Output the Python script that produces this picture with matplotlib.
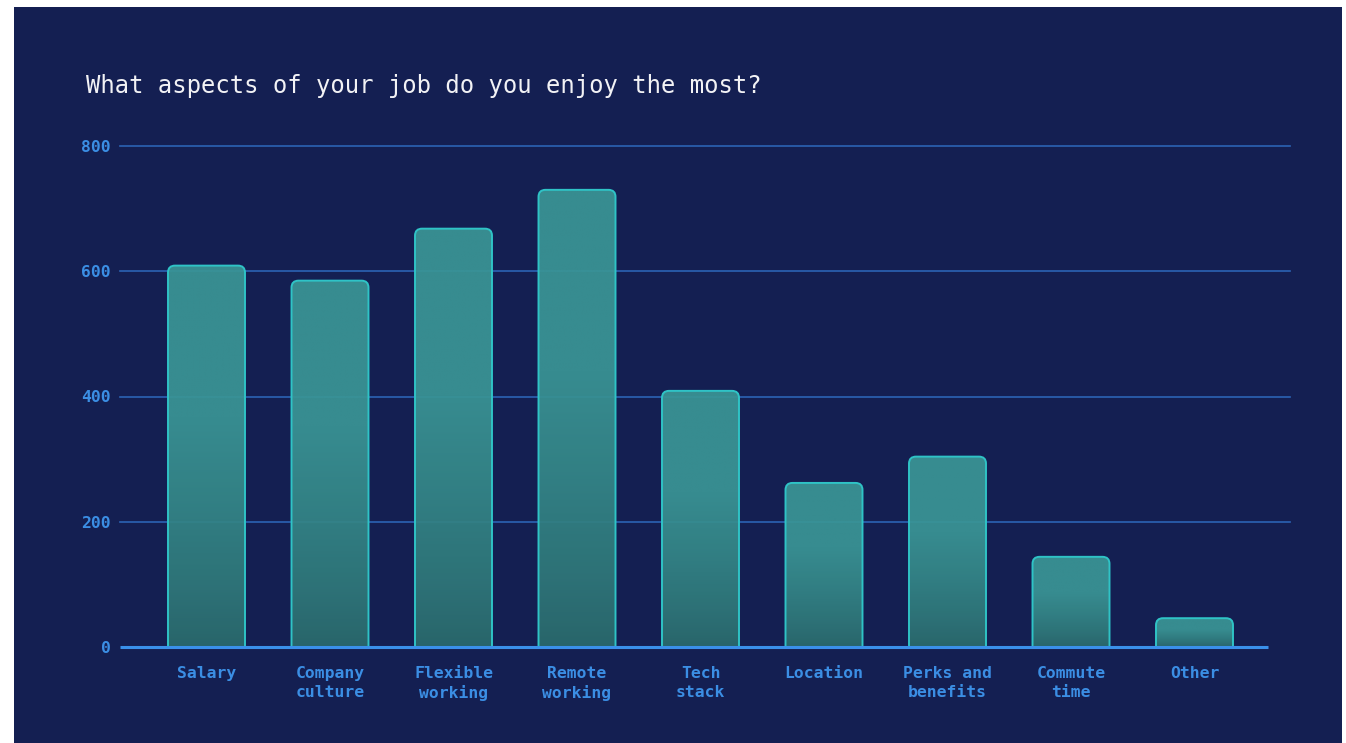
import numpy as np
import matplotlib
matplotlib.use("Agg")
import matplotlib.pyplot as plt
from matplotlib.patches import FancyBboxPatch, Rectangle
from matplotlib.colors import to_rgb

# survey answers
categories = ["Salary", "Company\nculture", "Flexible\nworking", "Remote\nworking",
              "Tech\nstack", "Location", "Perks and\nbenefits", "Commute\ntime", "Other"]
counts = [609, 585, 668, 730, 409, 262, 304, 144, 46]
yticks = [0, 200, 400, 600, 800]

BG = "#141f52"
LABEL = "#3b8ee4"
GRID = "#2b63b4"
EDGE = "#2fc3c6"
TOP = np.array(to_rgb("#3a9595"))
BOTTOM = np.array(to_rgb("#2a6a6c"))

W, H = 1346, 743
fig = plt.figure(figsize=(W / 100, H / 100), dpi=100, facecolor="white")
fig.patches.append(Rectangle((14 / W, 0), (1342 - 14) / W, 1 - 7 / H,
                             transform=fig.transFigure, facecolor=BG,
                             edgecolor="none", zorder=-5))

ax_left, ax_right = 120, 1290
ax_bottom, ax_top = 647, 146
ax = fig.add_axes([ax_left / W, 1 - ax_bottom / H,
                   (ax_right - ax_left) / W, (ax_bottom - ax_top) / H])
ax.set_facecolor("none")

step_px = 123.5
x_lo = -(206.5 - ax_left) / step_px
x_hi = x_lo + (ax_right - ax_left) / step_px
ax.set_xlim(x_lo, x_hi)
ax.set_ylim(0, 800)

# data units per pixel, used for the rounded corners
xu = 1 / step_px
yu = 800 / (ax_bottom - ax_top)
radius_px = 7
bar_w = 77 / step_px

for y in yticks[1:]:
    ax.plot([x_lo, x_hi], [y, y], color=GRID, lw=1.2, zorder=1, clip_on=False)

for i, v in enumerate(counts):
    x0 = i - bar_w / 2
    patch = FancyBboxPatch((x0, -radius_px * yu), bar_w, v + radius_px * yu,
                           boxstyle=f"round,pad=0,rounding_size={radius_px * xu}",
                           mutation_aspect=yu / xu,
                           facecolor="none", edgecolor=EDGE, lw=1.4, zorder=3)
    ax.add_patch(patch)
    t = np.linspace(0, 1, 200)
    k = np.clip(t / 0.6, 0, 1) ** 0.8
    cols = BOTTOM[None, :] * (1 - k[:, None]) + TOP[None, :] * k[:, None]
    img = ax.imshow(cols[:, None, :], extent=[x0, x0 + bar_w, 0, v],
                    origin="lower", aspect="auto", alpha=0.93, zorder=2,
                    interpolation="bilinear")
    img.set_clip_path(patch)

ax.set_xlim(x_lo, x_hi)
ax.set_ylim(0, 800)

# baseline
base_end = (1268 - 206.5) / step_px
ax.plot([x_lo, base_end], [0, 0], color="#3a90ea", lw=2.2, zorder=4,
        clip_on=False, solid_capstyle="butt")

for s in ax.spines.values():
    s.set_visible(False)

ax.set_yticks(yticks)
ax.set_yticklabels([str(t) for t in yticks])
ax.set_xticks(range(len(categories)))
ax.set_xticklabels(categories, linespacing=1.3)
ax.tick_params(length=0, colors=LABEL)
ax.tick_params(axis="y", pad=6.5)
ax.tick_params(axis="x", pad=14)
for lab in ax.get_xticklabels() + ax.get_yticklabels():
    lab.set_fontfamily("DejaVu Sans Mono")
    lab.set_fontweight("bold")
    lab.set_fontsize(11.8)
    lab.set_color(LABEL)
for lab in ax.get_xticklabels():
    lab.set_verticalalignment("top")
    lab.set_horizontalalignment("center")

fig.text(86 / W, 1 - 86 / H, "What aspects of your job do you enjoy the most?",
         fontfamily="DejaVu Sans Mono", fontsize=17.2, color="#f2f2f5",
         va="center", ha="left")

fig.savefig("out.png", dpi=100, facecolor="white")
